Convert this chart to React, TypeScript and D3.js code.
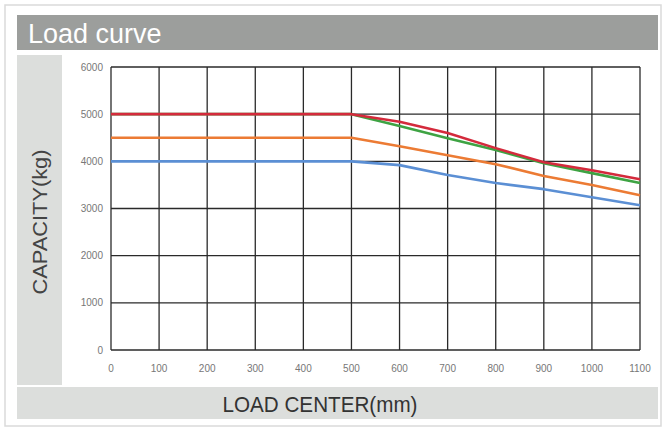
import { useEffect, useRef } from 'react';
import * as d3 from 'd3';

const loadCenters = [0, 100, 200, 300, 400, 500, 600, 700, 800, 900, 1000, 1100];
const capacityTicks = [0, 1000, 2000, 3000, 4000, 5000, 6000];

const blueSeries = [4000, 4000, 4000, 4000, 4000, 4000, 3920, 3710, 3540, 3410, 3240, 3070];
const orangeSeries = [4500, 4500, 4500, 4500, 4500, 4500, 4320, 4130, 3940, 3690, 3500, 3280];
const greenSeries = [5000, 5000, 5000, 5000, 5000, 5000, 4750, 4490, 4240, 3960, 3750, 3540];
const redSeries = [5000, 5000, 5000, 5000, 5000, 5000, 4840, 4600, 4280, 3980, 3810, 3620];

const seriesList = [
  { values: blueSeries, color: '#5b8fd4' },
  { values: orangeSeries, color: '#ec7b34' },
  { values: greenSeries, color: '#3ea343' },
  { values: redSeries, color: '#d42a3c' },
];

export default function App() {
  const svgRef = useRef<SVGSVGElement | null>(null);

  useEffect(() => {
    const svg = svgRef.current;
    if (!svg) return;

    const width = 662;
    const height = 428;
    const plot = { left: 111, right: 640, top: 67, bottom: 350 };
    const font = 'Liberation Sans, Arial, sans-serif';

    const x = d3.scaleLinear().domain([0, 1100]).range([plot.left, plot.right]);
    const y = d3.scaleLinear().domain([0, 6000]).range([plot.bottom, plot.top]);

    const root = d3.select(svg);
    root.selectAll('*').remove();
    root.attr('viewBox', `0 0 ${width} ${height}`);

    root.append('rect').attr('width', width).attr('height', height).attr('fill', '#fff');

    // outer frame
    root
      .append('rect')
      .attr('x', 5)
      .attr('y', 5)
      .attr('width', 656)
      .attr('height', 421)
      .attr('fill', 'none')
      .attr('stroke', '#dadada')
      .attr('stroke-width', 1.5);

    // title bar
    root.append('rect').attr('x', 17).attr('y', 15).attr('width', 641).attr('height', 35).attr('fill', '#9c9e9c');
    root
      .append('text')
      .attr('x', 28)
      .attr('y', 43)
      .attr('fill', '#fff')
      .attr('font-family', font)
      .attr('font-size', 27)
      .text('Load curve');

    // left label panel
    root.append('rect').attr('x', 17).attr('y', 55).attr('width', 45).attr('height', 330).attr('fill', '#dcdedc');
    root
      .append('text')
      .attr('transform', `translate(47,222) rotate(-90)`)
      .attr('text-anchor', 'middle')
      .attr('fill', '#444')
      .attr('font-family', font)
      .attr('font-size', 20)
      .attr('textLength', 145)
      .attr('lengthAdjust', 'spacingAndGlyphs')
      .text('CAPACITY(kg)');

    // bottom label panel
    root.append('rect').attr('x', 17).attr('y', 387).attr('width', 641).attr('height', 32).attr('fill', '#dcdedc');
    root
      .append('text')
      .attr('x', 320)
      .attr('y', 412)
      .attr('text-anchor', 'middle')
      .attr('fill', '#333')
      .attr('font-family', font)
      .attr('font-size', 22)
      .attr('textLength', 195)
      .attr('lengthAdjust', 'spacingAndGlyphs')
      .text('LOAD CENTER(mm)');

    // grid
    const grid = root.append('g').attr('stroke', '#2a2a2a').attr('stroke-width', 1.3);
    grid
      .selectAll('line.v')
      .data(loadCenters)
      .join('line')
      .attr('class', 'v')
      .attr('x1', (d) => x(d))
      .attr('x2', (d) => x(d))
      .attr('y1', y(0))
      .attr('y2', y(6000));
    grid
      .selectAll('line.h')
      .data(capacityTicks)
      .join('line')
      .attr('class', 'h')
      .attr('x1', x(0))
      .attr('x2', x(1100))
      .attr('y1', (d) => y(d))
      .attr('y2', (d) => y(d));

    // tick labels
    root
      .append('g')
      .selectAll('text')
      .data(capacityTicks)
      .join('text')
      .attr('x', plot.left - 8)
      .attr('y', (d) => y(d) + 3.5)
      .attr('text-anchor', 'end')
      .attr('fill', '#777')
      .attr('font-family', font)
      .attr('font-size', 10)
      .text((d) => `${d}`);
    root
      .append('g')
      .selectAll('text')
      .data(loadCenters)
      .join('text')
      .attr('x', (d) => x(d))
      .attr('y', plot.bottom + 22)
      .attr('text-anchor', 'middle')
      .attr('fill', '#777')
      .attr('font-family', font)
      .attr('font-size', 10)
      .text((d) => `${d}`);

    // curves
    const line = d3
      .line<number>()
      .x((_, i) => x(loadCenters[i]))
      .y((d) => y(d));

    root
      .append('g')
      .selectAll('path')
      .data(seriesList)
      .join('path')
      .attr('fill', 'none')
      .attr('stroke', (d) => d.color)
      .attr('stroke-width', 2.6)
      .attr('stroke-linejoin', 'round')
      .attr('d', (d) => line(d.values) as string);
  }, []);

  return (
    <svg
      ref={svgRef}
      width={662}
      height={428}
      style={{ position: 'absolute', left: 0, top: 0, display: 'block' }}
    />
  );
}
